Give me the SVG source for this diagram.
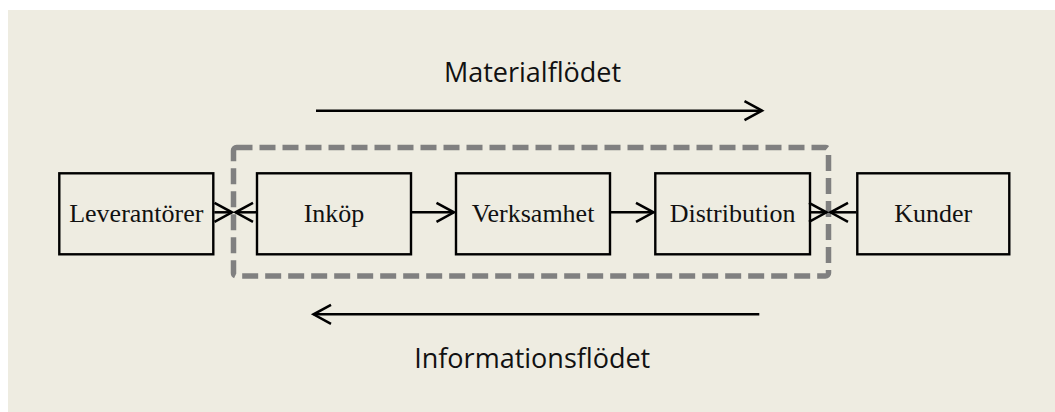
<svg xmlns="http://www.w3.org/2000/svg" width="1055" height="412" viewBox="0 0 1055 412">
  <defs>
    <style>
      .box { fill: none; stroke: #000; stroke-width: 2.4; }
      .lbl { font-family: "Liberation Serif", "Times New Roman", serif; font-size: 26px; fill: #111; text-anchor: middle; }
      .flow { font-family: "Open Sans", "Noto Sans", sans-serif; font-size: 27px; fill: #111; text-anchor: middle; }
      .conn { stroke: #000; stroke-width: 2.5; fill: none; }
      .scope { fill: none; stroke: #808080; stroke-width: 5.5; stroke-dasharray: 16 7; }
    </style>
    <marker id="head" markerUnits="userSpaceOnUse" markerWidth="24" markerHeight="24" viewBox="-20 -12 24 24" refX="0" refY="0" orient="auto">
      <path d="M-17.5,-9.5 L0,0 L-17.5,9.5" fill="none" stroke="#000" stroke-width="2.5"/>
    </marker>
  </defs>

  <!-- page background -->
  <rect x="0" y="0" width="1055" height="412" fill="#ffffff"/>
  <rect x="8" y="10" width="1047" height="402" fill="#EEECE1"/>

  <!-- company boundary -->
  <rect id="scope" class="scope" x="233.5" y="147.5" width="595" height="128.5" rx="3"/>

  <!-- nodes -->
  <g id="leverantorer">
    <rect class="box" x="59.3" y="173.3" width="154" height="81"/>
    <text class="lbl" x="136.3" y="222">Leverantörer</text>
  </g>
  <g id="inkop">
    <rect class="box" x="257" y="173.3" width="154" height="81"/>
    <text class="lbl" x="334" y="222">Inköp</text>
  </g>
  <g id="verksamhet">
    <rect class="box" x="456" y="173.3" width="154" height="81"/>
    <text class="lbl" x="533" y="222">Verksamhet</text>
  </g>
  <g id="distribution">
    <rect class="box" x="655.3" y="173.3" width="154.7" height="81"/>
    <text class="lbl" x="732.6" y="222">Distribution</text>
  </g>
  <g id="kunder">
    <rect class="box" x="857.3" y="173.3" width="152" height="81"/>
    <text class="lbl" x="933.3" y="222">Kunder</text>
  </g>

  <!-- connectors -->
  <g id="connectors">
    <line class="conn" x1="214.3" y1="212.3" x2="232" y2="212.3" marker-end="url(#head)"/>
    <line class="conn" x1="256" y1="212.3" x2="235.5" y2="212.3" marker-end="url(#head)"/>
    <line class="conn" x1="412" y1="212.3" x2="454" y2="212.3" marker-end="url(#head)"/>
    <line class="conn" x1="611" y1="212.3" x2="653.5" y2="212.3" marker-end="url(#head)"/>
    <line class="conn" x1="811" y1="212.3" x2="826.5" y2="212.3" marker-end="url(#head)"/>
    <line class="conn" x1="856.3" y1="212.3" x2="830.5" y2="212.3" marker-end="url(#head)"/>

    <line class="conn" x1="316" y1="110.7" x2="762" y2="110.7" marker-end="url(#head)"/>
    <line class="conn" x1="759.3" y1="314.3" x2="313.5" y2="314.3" marker-end="url(#head)"/>
  </g>

  <!-- flow labels -->
  <text class="flow" x="532.5" y="82.3">Materialflödet</text>
  <text class="flow" x="532.2" y="368.3">Informationsflödet</text>
</svg>
